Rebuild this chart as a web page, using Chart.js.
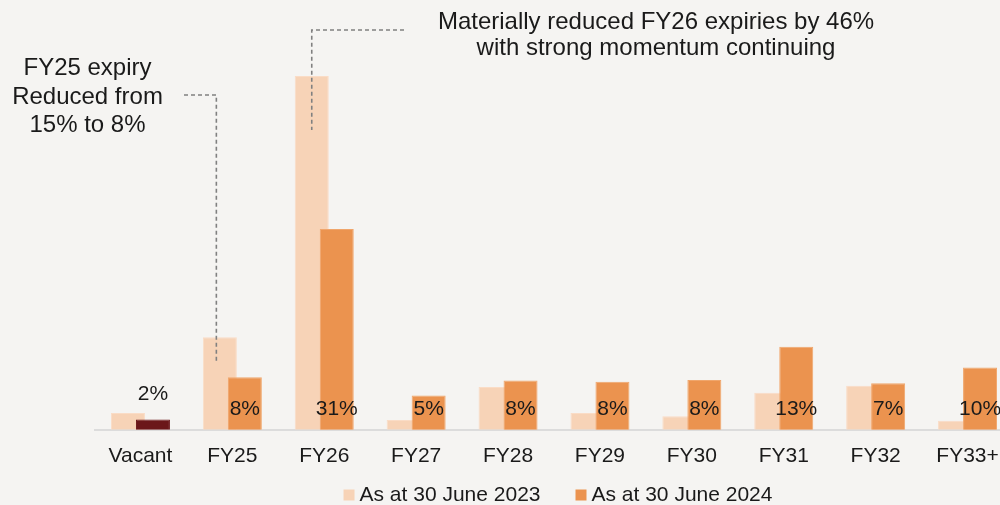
<!DOCTYPE html>
<html>
<head>
<meta charset="utf-8">
<script src="https://cdn.jsdelivr.net/npm/chart.js@4"></script>
<style>
  html, body { margin: 0; padding: 0; background: #f5f4f2; overflow: hidden; }
  #wrap { position: relative; width: 1020px; height: 505px; }
</style>
</head>
<body>
<div id="wrap"><canvas id="expiryChart"></canvas></div>
<script>
// lease expiry profile (% of income)
const categories = ["Vacant", "FY25", "FY26", "FY27", "FY28", "FY29", "FY30", "FY31", "FY32", "FY33+"];
const june2023 = [2.6, 14.3, 54.6, 1.5, 6.6, 2.6, 2.1, 5.7, 6.8, 1.4];
const june2024 = [1.6, 8.1, 31, 5.3, 7.6, 7.4, 7.7, 12.8, 7.2, 9.6];
const labels2024 = ["2%", "8%", "31%", "5%", "8%", "8%", "8%", "13%", "7%", "10%"];
const seriesNames = ["As at 30 June 2023", "As at 30 June 2024"];

const FONT = "'Liberation Sans', Arial, sans-serif";
const TEXT = "#1a1a1a";
const LIGHT = "#f7d3b7";
const ORANGE = "#eb934f";
const MAROON = "#6b171a";

// chart.js paints the first dataset on top; here the 2024 bars must overlap the 2023 ones
let drawing2024 = false;
const paintOrder = {
  id: "paintOrder",
  beforeDatasetDraw(chart, args) {
    if (args.index === 1 && !drawing2024) return false;
  },
  afterDatasetDraw(chart, args) {
    if (args.index === 0) {
      drawing2024 = true;
      chart.getDatasetMeta(1).controller.draw();
      drawing2024 = false;
    }
  },
};

// value labels for the 2024 series
const valueLabels = {
  id: "valueLabels",
  afterDatasetsDraw(chart) {
    const ctx = chart.ctx;
    const meta = chart.getDatasetMeta(1);
    ctx.save();
    ctx.font = "21px " + FONT;
    ctx.fillStyle = TEXT;
    ctx.textAlign = "center";
    ctx.textBaseline = "middle";
    meta.data.forEach((bar, i) => {
      const h = bar.base - bar.y;
      const y = h < 20 ? bar.y - 25 : bar.base - 21;
      ctx.fillText(labels2024[i], bar.x, y);
    });
    ctx.restore();
  },
};

// callouts + legend
const callouts = {
  id: "callouts",
  afterDraw(chart) {
    const ctx = chart.ctx;
    ctx.save();
    ctx.fillStyle = TEXT;
    ctx.textAlign = "center";
    ctx.textBaseline = "alphabetic";
    ctx.font = "24px " + FONT;
    ["FY25 expiry", "Reduced from", "15% to 8%"].forEach((t, i) => {
      ctx.fillText(t, 87.5, 75 + i * 28.5);
    });
    ctx.fillText("Materially reduced FY26 expiries by 46%", 656, 28.5);
    ctx.fillText("with strong momentum continuing", 656, 55);

    const b25 = chart.getDatasetMeta(0).data[1];
    const b26 = chart.getDatasetMeta(0).data[2];
    ctx.strokeStyle = "#808080";
    ctx.lineWidth = 1.6;
    ctx.setLineDash([4, 3]);
    ctx.beginPath();
    ctx.moveTo(184, 95);
    ctx.lineTo(b25.x - 3.5, 95);
    ctx.lineTo(b25.x - 3.5, b25.y + 26);
    ctx.stroke();
    ctx.beginPath();
    ctx.moveTo(404, 30);
    ctx.lineTo(b26.x, 30);
    ctx.lineTo(b26.x, b26.y + 54);
    ctx.stroke();
    ctx.setLineDash([]);

    // legend
    ctx.font = "21px " + FONT;
    ctx.textAlign = "left";
    ctx.textBaseline = "middle";
    const colors = [LIGHT, ORANGE];
    const widths = seriesNames.map((s) => 16 + ctx.measureText(s).width);
    const total = widths[0] + 35 + widths[1];
    let x = (chart.chartArea.left + chart.chartArea.right) / 2 + 4 - total / 2;
    seriesNames.forEach((s, i) => {
      ctx.fillStyle = colors[i];
      ctx.fillRect(x, 489.5, 11, 11);
      ctx.fillStyle = TEXT;
      ctx.fillText(s, x + 16, 495);
      x += widths[i] + 35;
    });
    ctx.restore();
  },
};

new Chart(document.getElementById("expiryChart"), {
  type: "bar",
  data: {
    labels: categories,
    datasets: [
      {
        label: seriesNames[0],
        data: june2023,
        backgroundColor: LIGHT,
        borderColor: "#fadcc6",
        borderWidth: 1,
      },
      {
        label: seriesNames[1],
        data: june2024,
        backgroundColor: june2024.map((_, i) => (i === 0 ? MAROON : ORANGE)),
        borderColor: june2024.map((_, i) => (i === 0 ? MAROON : "#f0a66c")),
        borderWidth: 1,
      },
    ],
  },
  options: {
    responsive: true,
    maintainAspectRatio: false,
    animation: false,
    categoryPercentage: 0.544,
    barPercentage: 1.36,
    layout: { padding: { left: 94.5, right: 6.5, top: 41, bottom: 22 } },
    plugins: {
      legend: { display: false },
      tooltip: { enabled: false },
    },
    scales: {
      x: {
        grid: { display: false, drawTicks: false },
        border: { display: true, color: "#dcdcdc", width: 2 },
        ticks: { color: TEXT, font: { family: FONT, size: 21 }, padding: 14 },
      },
      y: { display: false, min: 0, max: 60 },
    },
  },
  plugins: [paintOrder, valueLabels, callouts],
});
</script>
</body>
</html>
